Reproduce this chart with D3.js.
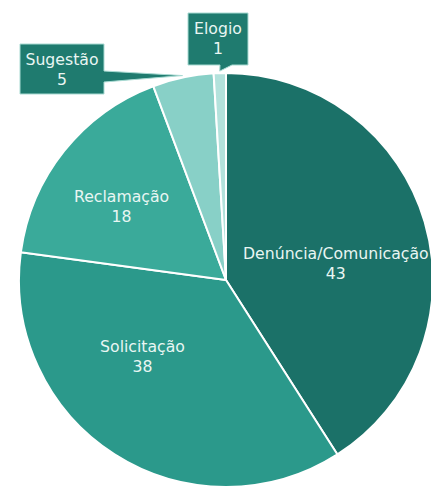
<!DOCTYPE html>
<html>
<head>
<meta charset="utf-8">
<script src="https://cdn.jsdelivr.net/npm/d3@7"></script>
<style>
  html, body { margin: 0; padding: 0; background: #ffffff; }
  svg { display: block; }
  text { font-family: "DejaVu Sans", "Noto Sans", sans-serif; }
</style>
</head>
<body>
<svg id="chart" width="431" height="486"></svg>
<script>
// Manifestações por tipo
const categories = ["Denúncia/Comunicação", "Solicitação", "Reclamação", "Sugestão", "Elogio"];
const values = [43, 38, 18, 5, 1];
const colors = ["#1b7168", "#2b998b", "#3aaa9a", "#88d0c7", "#b3e2dc"];

const data = categories.map((c, i) => ({ name: c, value: values[i], color: colors[i] }));

const width = 431, height = 486;
const cx = 226, cy = 280, radius = 207;

const svg = d3.select("#chart");
const g = svg.append("g").attr("transform", `translate(${cx},${cy})`);

const pie = d3.pie().value(d => d.value).sort(null);
const arcs = pie(data);
const arc = d3.arc().innerRadius(0).outerRadius(radius);

g.selectAll("path.slice")
  .data(arcs)
  .join("path")
  .attr("class", "slice")
  .attr("d", arc)
  .attr("fill", d => d.data.color)
  .attr("stroke", "#ffffff")
  .attr("stroke-width", 2)
  .attr("stroke-linejoin", "round");

// Inside labels: placed on a label arc (radius, angle in degrees from 12 o'clock)
const inside = {
  "Denúncia/Comunicação": { r: 111, a: 81.7 },
  "Solicitação": { r: 113.6, a: 227.3 },
  "Reclamação": { r: 127.5, a: 305 }
};
const txtColor = "#e9f6f3";
const fs = 15.7;

arcs.forEach(d => {
  const p = inside[d.data.name];
  if (!p) return;
  const ang = p.a * Math.PI / 180;
  const x = Math.sin(ang) * p.r, y = -Math.cos(ang) * p.r;
  const t = g.append("text")
    .attr("text-anchor", "middle")
    .attr("fill", txtColor)
    .attr("font-size", fs);
  t.append("tspan").attr("x", x).attr("y", y - 5).text(d.data.name);
  t.append("tspan").attr("x", x).attr("y", y + 15).text(d.data.value);
});

// Callout labels for the two thin slices
const callouts = {
  "Sugestão": { box: [20, 44, 84, 50], side: "right", base: [71, 82] },
  "Elogio": { box: [188, 13, 60, 52], side: "bottom", base: [220, 232] }
};

arcs.forEach(d => {
  const c = callouts[d.data.name];
  if (!c) return;
  const [bx, by, bw, bh] = c.box;
  // pointer tip on the slice's outer edge
  const mid = (d.startAngle + d.endAngle) / 2;
  const tipR = radius + 2;
  const tx = cx + Math.sin(mid) * tipR, ty = cy - Math.cos(mid) * tipR;

  let pts;
  if (c.side === "right") {
    pts = [[bx, by], [bx + bw, by], [bx + bw, c.base[0]], [tx, ty], [bx + bw, c.base[1]], [bx + bw, by + bh], [bx, by + bh]];
  } else {
    pts = [[bx, by], [bx + bw, by], [bx + bw, by + bh], [c.base[1], by + bh], [tx, ty], [c.base[0], by + bh], [bx, by + bh]];
  }
  svg.append("path")
    .attr("d", d3.line()(pts) + "Z")
    .attr("fill", "#1f7b6f")
    .attr("stroke", "#a9dbd3")
    .attr("stroke-width", 1)
    .attr("stroke-linejoin", "miter");

  const mx = bx + bw / 2;
  const t = svg.append("text")
    .attr("text-anchor", "middle")
    .attr("fill", txtColor)
    .attr("font-size", fs);
  t.append("tspan").attr("x", mx).attr("y", by + 21).text(d.data.name);
  t.append("tspan").attr("x", mx).attr("y", by + 41).text(d.data.value);
});
</script>
</body>
</html>
